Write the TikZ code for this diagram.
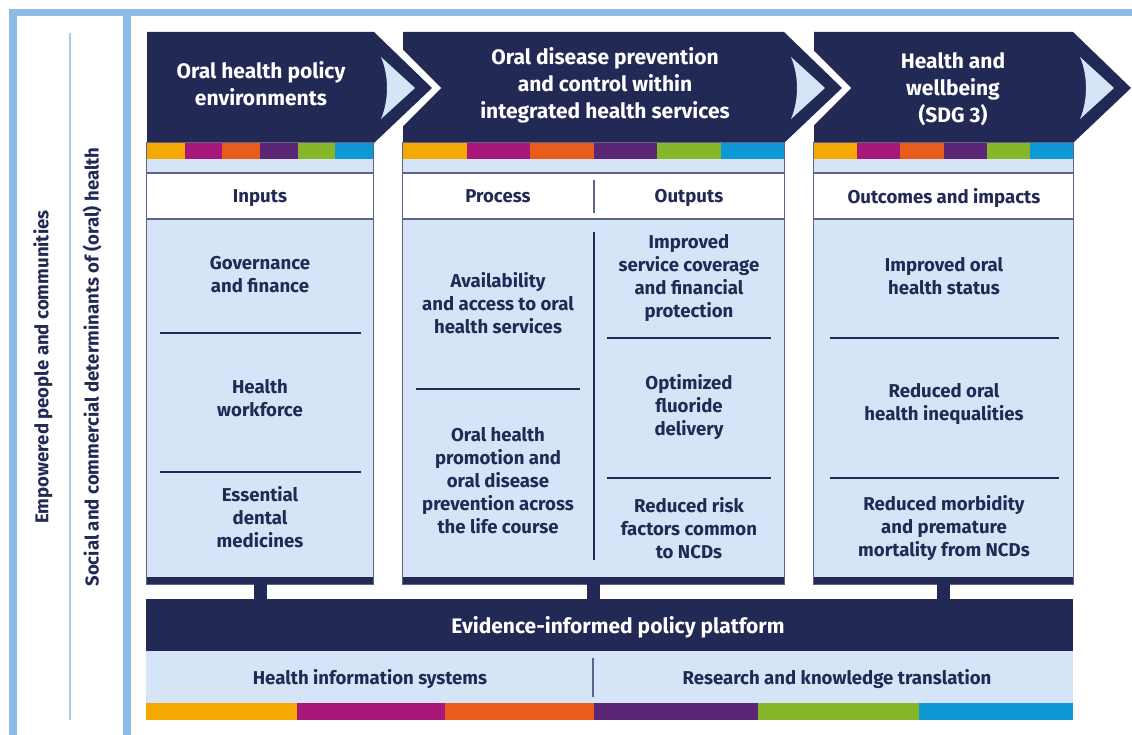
\documentclass[tikz,border=0pt]{standalone}
\usepackage{fontspec}
\setmainfont{Fira Sans}
\usetikzlibrary{positioning}

\definecolor{navy}{RGB}{34,41,84}
\definecolor{paleblue}{RGB}{213,228,247}
\definecolor{frameblue}{RGB}{139,188,230}
\definecolor{thinblue}{RGB}{170,205,237}
\definecolor{rimgray}{RGB}{92,100,138}
\definecolor{cYellow}{RGB}{244,168,0}
\definecolor{cMagenta}{RGB}{168,23,122}
\definecolor{cOrange}{RGB}{233,92,28}
\definecolor{cPurple}{RGB}{91,38,118}
\definecolor{cGreen}{RGB}{134,183,42}
\definecolor{cBlue}{RGB}{14,152,213}

\begin{document}
\begin{tikzpicture}[x=1pt, y=-1pt,
    rim/.style={draw=rimgray, line width=1.3pt},
    rule/.style={draw=navy, line width=1.1pt},
    headtext/.style={text=white, font=\bfseries\fontsize{21}{27}\selectfont, align=center, text depth=0pt},
    celltext/.style={text=navy, font=\bfseries\fontsize{18.6}{23}\selectfont, align=center, text depth=0pt},
    sidetext/.style={text=navy, font=\bfseries\fontsize{18.6}{20}\selectfont, rotate=90},
    stub/.style={draw=navy, line width=13pt}]
  \useasboundingbox (0,0) rectangle (1132,735);

  \fill[frameblue] (9,9) rectangle (1132,16.5);
  \fill[frameblue] (9,9) rectangle (16.5,735);
  \fill[frameblue] (123,9) rectangle (130.5,735);
  \draw[thinblue, line width=1.5pt] (70,33) -- (70,720);
  \node[sidetext] (people) at (43,367) {Empowered people and communities};
  \node[sidetext] (social) at (92,367) {Social and commercial determinants of (oral) health};

  % header arrows, right to left so each tip lies over the next one
  \foreach \a/\b in {814/1073, 403/784, 147/374} {
    \draw[white, line width=13pt, line join=miter] (\b,30) -- (\b+58,88) -- (\b,146);
    \fill[navy] (\a,32) -- (\b,32) -- (\b+58,88) -- (\b,143) -- (\a,143) -- cycle;
    \fill[paleblue] (\b+7,57) -- (\b+41,88) -- (\b+7,119)
      .. controls (\b+15,100) and (\b+15,76) .. (\b+7,57);
  }
  \node[headtext] (h1) at (261,83) {Oral health policy\\environments};
  \node[headtext] (h2) at (605,83) {Oral disease prevention\\and control within\\integrated health services};
  \node[headtext] (h3) at (953,88) {Health and\\wellbeing\\(SDG 3)};

  \foreach \n/\a/\b in {col1/147/373, col2/403/784, col3/814/1073} {
    \node[inner sep=0, minimum width={\b-\a}, minimum height=441] (\n) at ({(\a+\b)/2},363.5) {};
    \fill[paleblue] (\n.north west) rectangle (\n.south east);
    \fill[white] (\a,173) rectangle (\b,219);
    \draw[rim] (\a,173) -- (\b,173) (\a,219) -- (\b,219);
    \fill[navy] (\a,577) rectangle (\b,584);
    \foreach \c [count=\i from 0] in {cYellow,cMagenta,cOrange,cPurple,cGreen,cBlue}
      \fill[\c] ({\a+\i*(\b-\a)/6},143) rectangle ({\a+(\i+1)*(\b-\a)/6},159);
    \draw[rim] (\n.north west) rectangle (\n.south east);
  }

  \node[celltext] (inputs) at (260,196) {Inputs};
  \node[celltext] (process) at (498,196) {Process};
  \node[celltext] (outputs) at (689,196) {Outputs};
  \node[celltext] (outcomes) at (944,196) {Outcomes and impacts};
  \draw[rim] (594,180) -- (594,213);

  \node[celltext] (gov) at (260,274) {Governance\\and finance};
  \node[celltext] (workforce) at (260,398) {Health\\workforce};
  \node[celltext] (medicines) at (260,517) {Essential\\dental\\medicines};
  \draw[rule] (160,333) -- (361,333) (160,472) -- (361,472);

  \node[celltext] (access) at (498,303) {Availability\\and access to oral\\health services};
  \node[celltext] (promotion) at (498,480) {Oral health\\promotion and\\oral disease\\prevention across\\the life course};
  \draw[rule] (416,389) -- (580,389);
  \draw[rule] (594,232) -- (594,560);
  \node[celltext] (coverage) at (689,276) {Improved\\service coverage\\and financial\\protection};
  \node[celltext] (fluoride) at (689,405) {Optimized\\fluoride\\delivery};
  \node[celltext] (risk) at (689,528) {Reduced risk\\factors common\\to NCDs};
  \draw[rule] (607,338) -- (771,338) (607,478) -- (771,478);

  \node[celltext] (status) at (944,276) {Improved oral\\health status};
  \node[celltext] (inequal) at (944,402) {Reduced oral\\health inequalities};
  \node[celltext] (mortality) at (944,526) {Reduced morbidity\\and premature\\mortality from NCDs};
  \draw[rule] (830,338) -- (1059,338) (830,478) -- (1059,478);

  \node[fill=navy, inner sep=0, minimum width=927, minimum height=52] (platform) at (609.5,625) {};
  \node[headtext] (platformtext) at (618,625) {Evidence-informed policy platform};
  \fill[paleblue] (146,651) rectangle (1073,703);
  \node[celltext] (his) at (370,677) {Health information systems};
  \node[celltext] (research) at (837,677) {Research and knowledge translation};
  \draw[rim] (593,658) -- (593,697);
  \foreach \a/\b/\c in {146/297/cYellow, 297/445/cMagenta, 445/594/cOrange,
      594/758/cPurple, 758/919/cGreen, 919/1073/cBlue}
    \fill[\c] (\a,703) rectangle (\b,720);

  \foreach \n in {col1,col2,col3}
    \draw[stub] (\n.south) -- (\n.south |- platform.north);
\end{tikzpicture}
\end{document}
